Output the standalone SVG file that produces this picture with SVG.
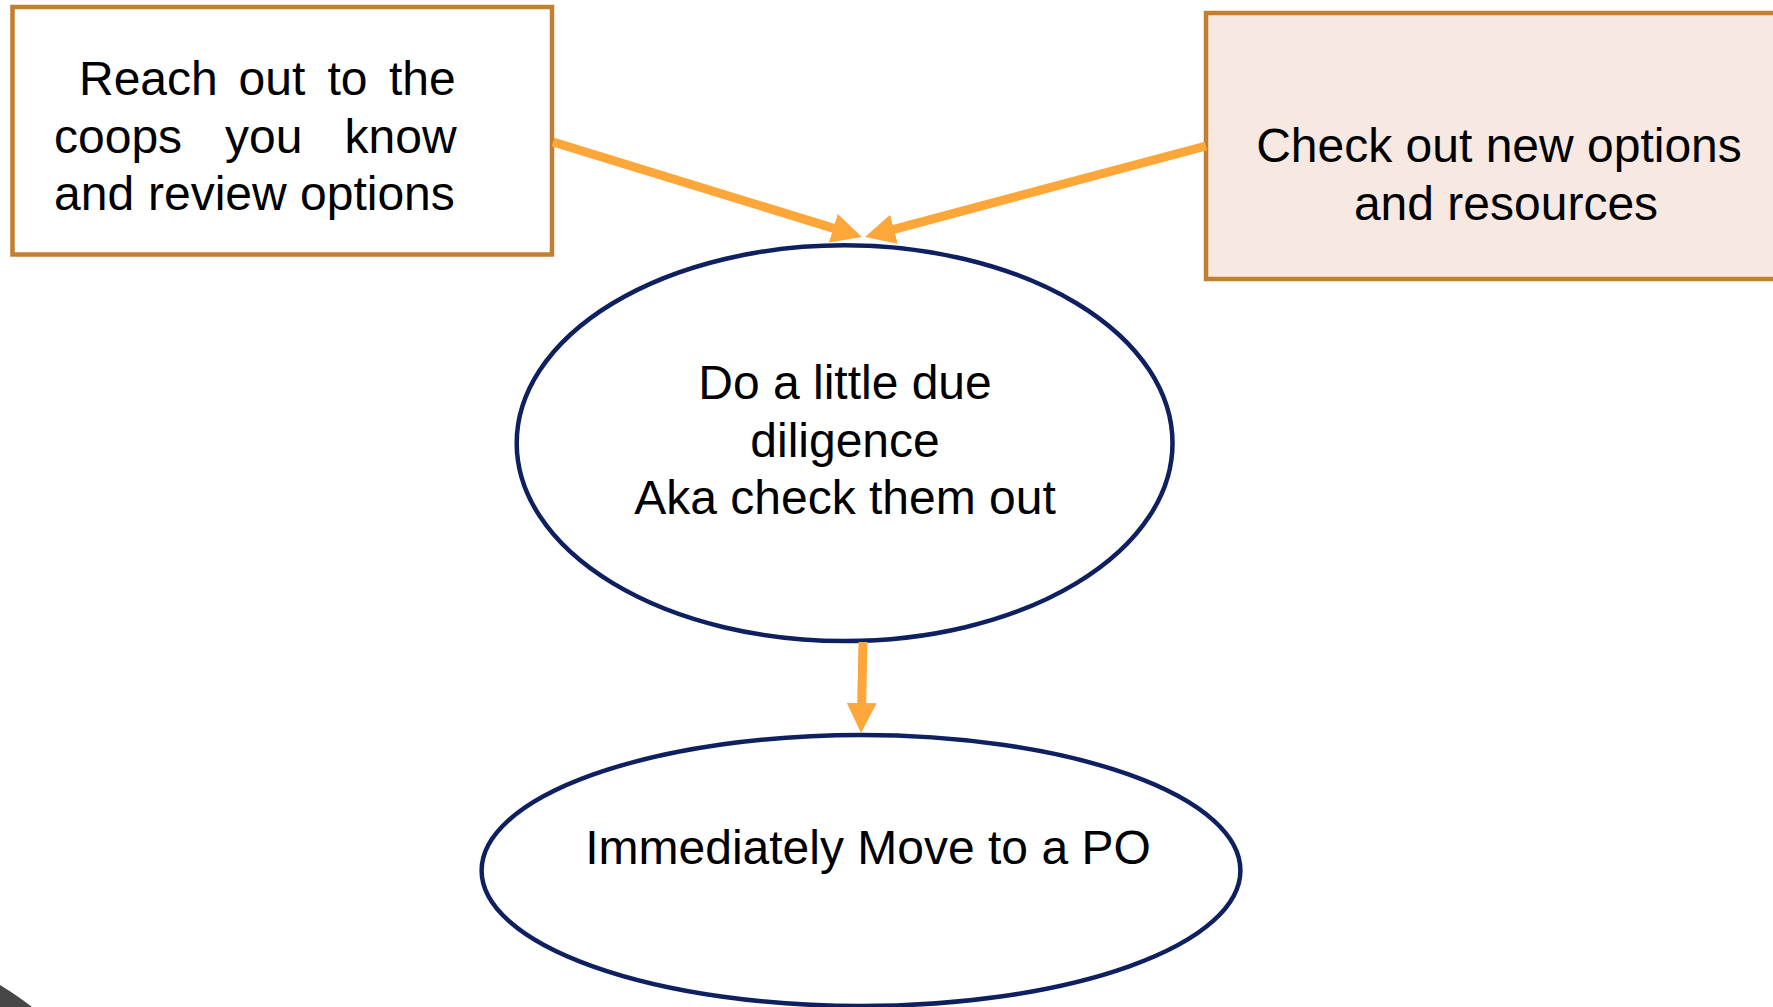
<svg xmlns="http://www.w3.org/2000/svg" width="1773" height="1007" viewBox="0 0 1773 1007">
<style>
.box{stroke:#C17F2F;stroke-width:4.5;}
.ell{fill:#FFFFFF;stroke:#0E2060;stroke-width:4.5;}
.t{font-family:"Liberation Sans",Arial,sans-serif;font-size:48px;fill:#000000;}
.c{text-anchor:middle;}
.conn{stroke:#FDA73A;stroke-width:9;fill:none;marker-end:url(#ah);}
</style>
<defs>
<marker id="ah" markerUnits="userSpaceOnUse" viewBox="0 0 30 30" markerWidth="30" markerHeight="30" refX="4" refY="15" orient="auto">
<path d="M0,0 L30,15 L0,30 Z" fill="#FDA73A"/>
</marker>
</defs>
<rect width="1773" height="1007" fill="#FFFFFF"/>
<path d="M0,985 Q18,996 32,1007 L0,1007 Z" fill="#474747"/>
<g id="reach">
<rect class="box" x="12.5" y="7" width="539.5" height="247.5" fill="#FFFFFF"/>
<text class="t" y="95"><tspan x="79">Reach</tspan><tspan x="238.5">out</tspan><tspan x="327.5">to</tspan><tspan x="389">the</tspan></text>
<text class="t" y="152.5"><tspan x="54">coops</tspan><tspan x="225">you</tspan><tspan x="344.5">know</tspan></text>
<text class="t" y="210"><tspan x="54">and</tspan><tspan x="148">review</tspan><tspan x="300">options</tspan></text>
</g>
<g id="checkout">
<rect class="box" x="1206" y="13" width="580" height="266" fill="#F7E9E1"/>
<text class="t c" x="1499" y="162">Check out new options</text>
<text class="t c" x="1506" y="219.5">and resources</text>
</g>
<g id="diligence">
<ellipse class="ell" cx="844.6" cy="443.2" rx="327.9" ry="197.9"/>
<text class="t c" x="845" y="399">Do a little due</text>
<text class="t c" x="845" y="456.5">diligence</text>
<text class="t c" x="845" y="514">Aka check them out</text>
</g>
<g id="po">
<ellipse class="ell" cx="861" cy="870.5" rx="379.4" ry="135.5"/>
<text class="t c" x="868" y="864">Immediately Move to a PO</text>
</g>
<g id="connectors">
<path class="conn" d="M553,142 L837.1,229.4"/>
<path class="conn" d="M1206,146 L890.1,230.3"/>
<path class="conn" d="M863,642 L861.6,707"/>
</g>
</svg>
